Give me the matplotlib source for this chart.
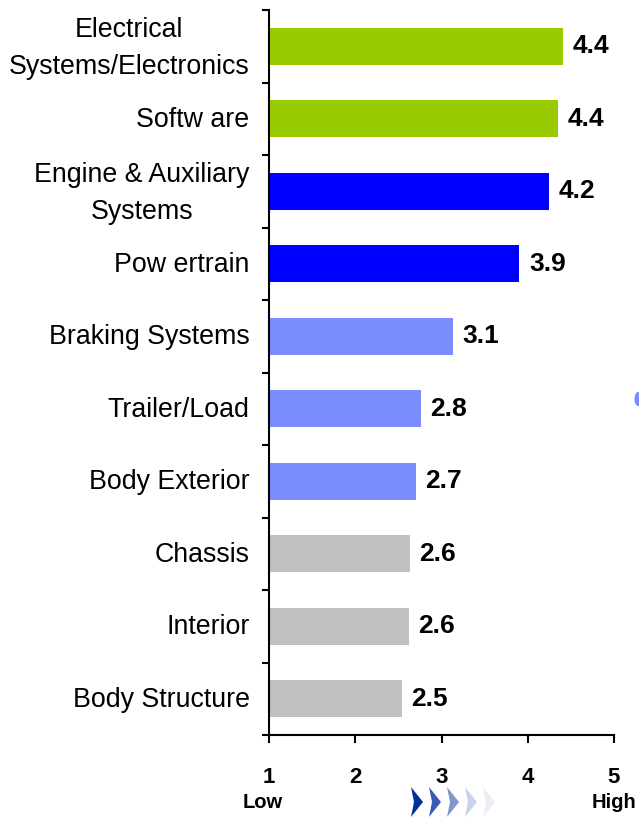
import matplotlib
matplotlib.use("Agg")
import matplotlib.pyplot as plt
from matplotlib.patches import Polygon, Ellipse
from matplotlib.transforms import ScaledTranslation

plt.rcParams['font.family'] = ['Liberation Sans', 'DejaVu Sans']

# data (top to bottom)
categories = ["Electrical\nSystems/Electronics", "Softw are", "Engine & Auxiliary\nSystems",
              "Pow ertrain", "Braking Systems", "Trailer/Load", "Body Exterior",
              "Chassis", "Interior", "Body Structure"]
values = [4.41, 4.35, 4.25, 3.90, 3.13, 2.76, 2.70, 2.63, 2.62, 2.54]
value_labels = ["4.4", "4.4", "4.2", "3.9", "3.1", "2.8", "2.7", "2.6", "2.6", "2.5"]
bar_colors = ["#99cc00", "#99cc00", "#0000ff", "#0000ff", "#7b8cff", "#7b8cff",
              "#7b8cff", "#c0c0c0", "#c0c0c0", "#c0c0c0"]
x_ticks = [1, 2, 3, 4, 5]

W, H = 639, 818
fig = plt.figure(figsize=(W / 100, H / 100), dpi=100)
ax = fig.add_axes([269 / W, 1 - 735 / H, 345 / W, 725 / H])

ypos = list(range(len(categories)))
ax.barh(ypos, [v - 1 for v in values], left=1, height=0.51, color=bar_colors, zorder=2)

for y, v, lab in zip(ypos, values, value_labels):
    ax.annotate(lab, (v, y), xytext=(7, 0), textcoords="offset points",
                ha="left", va="center", fontsize=19, fontweight="bold")

ax.set_xlim(1, 5)
ax.set_ylim(len(categories) - 0.5, -0.5)

ax.set_yticks(ypos)
ax.set_yticklabels(categories, fontsize=19.3, multialignment="center", linespacing=1.55)
ax.tick_params(axis="y", length=0, pad=14)
ax.set_yticks([i - 0.5 for i in range(len(categories) + 1)], minor=True)
ax.tick_params(axis="y", which="minor", length=5, width=1.5, direction="out")

# nudge labels up a little (multi-line ones more)
for lbl in ax.get_yticklabels():
    dy = 6 if "\n" in lbl.get_text() else 2
    lbl.set_transform(lbl.get_transform() + ScaledTranslation(0, dy / 100, fig.dpi_scale_trans))

ax.set_xticks(x_ticks)
ax.set_xticklabels([str(t) for t in x_ticks], fontsize=16, fontweight="bold")
ax.tick_params(axis="x", length=6, width=1.5, direction="out", pad=17)

for s in ["top", "right"]:
    ax.spines[s].set_visible(False)
for s in ["left", "bottom"]:
    ax.spines[s].set_linewidth(1.5)

# Low / High labels
fig.text(263 / W, 1 - 802 / H, "Low", fontsize=14.5, fontweight="bold", ha="center", va="center")
fig.text(614 / W, 1 - 803 / H, "High", fontsize=14.5, fontweight="bold", ha="center", va="center")

# chevrons
chev_colors = ["#00309c", "#3a5cb4", "#7f96cc", "#c9d3ea", "#e8edf6"]
x0, top, bot, w = 411, 787, 817, 12
for i, c in enumerate(chev_colors):
    xs = x0 + i * 18
    pts = [(xs, top), (xs + w, (top + bot) / 2), (xs, bot), (xs + 3, (top + bot) / 2)]
    pts = [(px / W, 1 - py / H) for px, py in pts]
    fig.patches.append(Polygon(pts, closed=True, transform=fig.transFigure,
                               facecolor=c, edgecolor="none"))

# cut-off mark at right edge
fig.patches.append(Ellipse((638 / W, 1 - 399 / H), 7 / W, 14 / H, transform=fig.transFigure,
                           facecolor="#7b8cff", edgecolor="none"))

fig.savefig("out.png", dpi=100, facecolor="white")
